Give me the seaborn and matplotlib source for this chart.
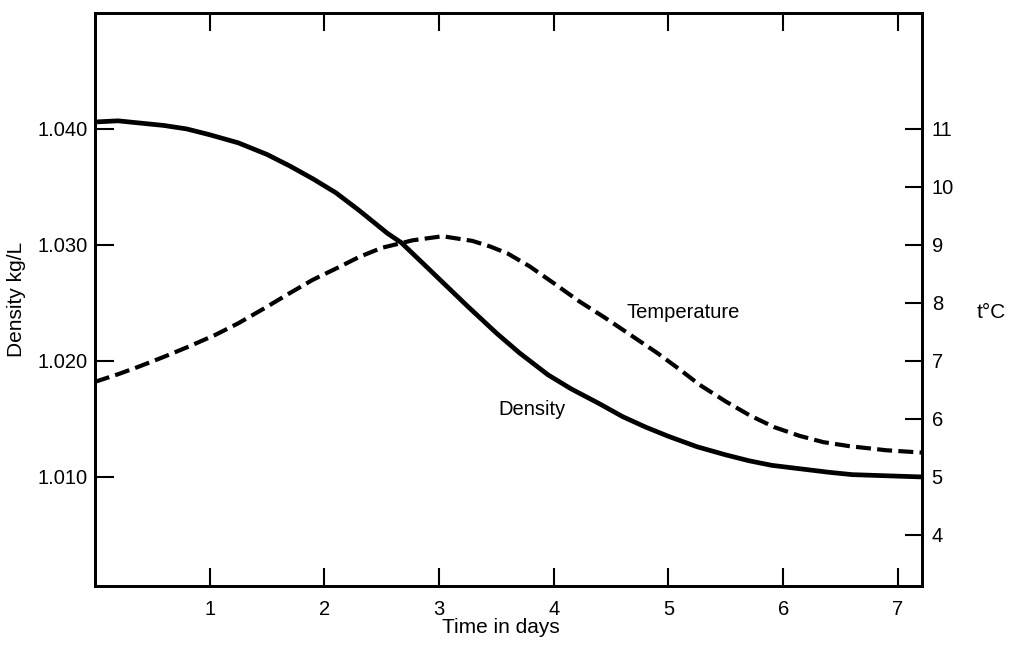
import matplotlib
matplotlib.use("Agg")
import matplotlib.pyplot as plt
import seaborn as sns
import pandas as pd

# values
density_days = [0.0, 0.2, 0.4, 0.6, 0.8, 1.0, 1.25, 1.5, 1.7, 1.9, 2.1, 2.3,
                2.55, 2.67, 2.85, 3.05, 3.25, 3.5, 3.7, 3.95, 4.15, 4.4, 4.6,
                4.8, 5.0, 5.25, 5.5, 5.7, 5.9, 6.15, 6.4, 6.6, 6.9, 7.21]
density_vals = [1.0406, 1.0407, 1.0405, 1.0403, 1.0400, 1.0395, 1.0388, 1.0378,
                1.0368, 1.0357, 1.0345, 1.0330, 1.0310, 1.0302, 1.0285, 1.0266,
                1.0247, 1.0224, 1.0207, 1.0188, 1.0176, 1.0163, 1.0152, 1.0143,
                1.0135, 1.0126, 1.0119, 1.0114, 1.0110, 1.0107, 1.0104, 1.0102,
                1.0101, 1.0100]

temp_days = [0.0, 0.2, 0.38, 0.6, 0.82, 1.05, 1.25, 1.47, 1.69, 1.9, 2.13,
             2.3, 2.5, 2.77, 3.03, 3.29, 3.45, 3.6, 3.79, 4.0, 4.22, 4.45,
             4.66, 4.9, 5.1, 5.27, 5.5, 5.71, 5.92, 6.14, 6.35, 6.58, 6.9, 7.21]
temp_vals = [6.64, 6.77, 6.90, 7.07, 7.25, 7.45, 7.65, 7.90, 8.16, 8.40, 8.62,
             8.79, 8.95, 9.08, 9.15, 9.07, 8.97, 8.85, 8.63, 8.34, 8.03, 7.74,
             7.46, 7.14, 6.85, 6.59, 6.30, 6.06, 5.86, 5.71, 5.60, 5.53, 5.46,
             5.42]

day_ticks = [1, 2, 3, 4, 5, 6, 7]
density_ticks = [1.010, 1.020, 1.030, 1.040]
temp_ticks = [4, 5, 6, 7, 8, 9, 10, 11]

dens_df = pd.DataFrame({"day": density_days, "density": density_vals})
temp_df = pd.DataFrame({"day": temp_days, "temp": temp_vals})

sns.set_style("white")
plt.rcParams["font.family"] = ["Liberation Sans", "DejaVu Sans"]
plt.rcParams["text.color"] = "black"
plt.rcParams["axes.labelcolor"] = "black"

fig = plt.figure(figsize=(10.19, 6.47), dpi=100)
ax = fig.add_axes([0.0932, 0.0943, 0.8116, 0.8857])
ax2 = ax.twinx()

sns.lineplot(data=dens_df, x="day", y="density", color="black", lw=3.4, ax=ax)
sns.lineplot(data=temp_df, x="day", y="temp", color="black", lw=3.0,
             linestyle=(0, (3.6, 1.5)), ax=ax2)

ax.set_xlim(0, 7.21)
ax.set_ylim(1.0006, 1.0500)
ax2.set_ylim(3.12, 13.0)

ax.set_xticks(day_ticks)
ax.set_yticks(density_ticks)
ax.set_yticklabels([f"{v:.3f}" for v in density_ticks])
ax2.set_yticks(temp_ticks)

for a in (ax, ax2):
    for s in a.spines.values():
        s.set_linewidth(2.0)
        s.set_color("black")

ax.tick_params(axis="x", direction="in", length=13, width=1.5, pad=10,
               labelsize=14.5, top=True, bottom=True, colors="black")
ax.tick_params(axis="y", direction="in", length=14, width=1.5, pad=5,
               labelsize=14.5, colors="black")
ax2.tick_params(axis="y", direction="in", length=12, width=1.5, pad=7,
                labelsize=14.5, colors="black")

ax.set_xlabel("Time in days", fontsize=15, color="black")
ax.xaxis.set_label_coords(0.491, -0.056)
ax.set_ylabel("Density kg/L", fontsize=15, color="black")
ax.yaxis.set_label_coords(-0.083, 0.5)
ax2.set_ylabel("t°C", fontsize=15, rotation=0, ha="left", va="center",
               color="black")
ax2.yaxis.set_label_coords(1.066, 0.478)

ax2.text(4.63, 7.84, "Temperature", fontsize=14.5, ha="left", va="center",
         color="black")
ax.text(3.52, 1.0158, "Density", fontsize=14.5, ha="left", va="center",
        color="black")

fig.savefig("out.png", dpi=100)
